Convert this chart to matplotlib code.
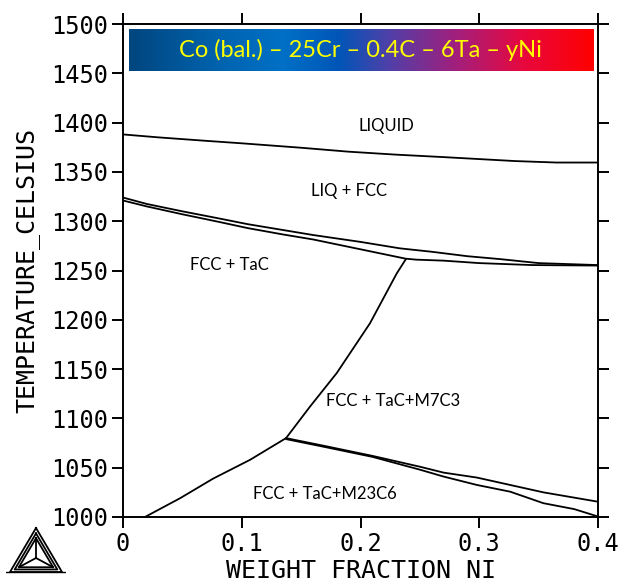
import numpy as np
import matplotlib
matplotlib.use("Agg")
import matplotlib.pyplot as plt
from matplotlib.colors import LinearSegmentedColormap

# phase boundaries (weight fraction Ni, temperature C)
liq_w = [0, 0.03, 0.07, 0.1, 0.15, 0.19, 0.23, 0.27, 0.3, 0.33, 0.365, 0.4]
liq_t = [1388, 1385, 1381.5, 1379, 1374.5, 1370.5, 1367.5, 1365, 1363, 1361, 1359.5, 1359.5]

sol1_w = [0, 0.02, 0.05, 0.08, 0.105, 0.135, 0.16, 0.2, 0.233, 0.26, 0.29, 0.318, 0.35, 0.4]
sol1_t = [1324, 1317.5, 1310, 1303, 1297, 1291, 1286, 1279, 1272.5, 1269, 1264.5, 1261.5, 1257.5, 1255.5]

sol2_w = [0, 0.02, 0.05, 0.08, 0.105, 0.135, 0.16, 0.2, 0.238, 0.247, 0.27, 0.30, 0.345, 0.4]
sol2_t = [1321, 1315, 1307, 1299.5, 1293, 1286.5, 1281.5, 1271.5, 1262, 1261, 1260, 1257.5, 1255.5, 1255]

m7_w = [0.1373, 0.1575, 0.18, 0.208, 0.2305, 0.2383]
m7_t = [1080, 1112, 1146, 1196.5, 1247, 1261.7]

m23l_w = [0.0185, 0.048, 0.076, 0.107, 0.1373]
m23l_t = [1000, 1019, 1039, 1058, 1080]

m23a_w = [0.1373, 0.17, 0.21, 0.25, 0.27, 0.298, 0.326, 0.354, 0.4]
m23a_t = [1080, 1072, 1062, 1051, 1045, 1040, 1032.5, 1025, 1015.5]

m23b_w = [0.1373, 0.17, 0.21, 0.25, 0.27, 0.298, 0.326, 0.354, 0.38, 0.396, 0.4]
m23b_t = [1079, 1071, 1061, 1048, 1041, 1032.5, 1025.7, 1014, 1008, 1002, 1000.5]

region_names = ["LIQUID", "LIQ + FCC", "FCC + TaC", "FCC + TaC+M7C3", "FCC + TaC+M23C6"]
region_w = [0.222, 0.19, 0.09, 0.227, 0.17]
region_t = [1397, 1331, 1256, 1118, 1023]

x_ticks = [0, 0.1, 0.2, 0.3, 0.4]
x_labels = ["0", "0.1", "0.2", "0.3", "0.4"]
y_ticks = list(range(1000, 1501, 50))

title = "Co (bal.) \u2013 25Cr \u2013 0.4C \u2013 6Ta \u2013 yNi"

mono = "DejaVu Sans Mono"
sans = "Lato"

fig = plt.figure(figsize=(6.19, 5.88), dpi=100)
ax = fig.add_axes([123 / 619, 1 - 517 / 588, 475 / 619, 493 / 588])

lw = 1.3
for w, t in [(liq_w, liq_t), (sol1_w, sol1_t), (sol2_w, sol2_t), (m7_w, m7_t),
             (m23l_w, m23l_t), (m23a_w, m23a_t), (m23b_w, m23b_t)]:
    ax.plot(w, t, color="black", lw=lw, solid_capstyle="round")

for name, w, t in zip(region_names, region_w, region_t):
    ax.text(w, t, name, ha="center", va="center", fontsize=12, family=sans)

# gradient banner
cmap = LinearSegmentedColormap.from_list("banner", [
    (0.0, "#00467f"), (0.2, "#0064b0"), (0.33, "#0070c6"), (0.45, "#0056b8"),
    (0.56, "#5040a8"), (0.7, "#a0207e"), (0.85, "#e8083e"), (1.0, "#ff0000")])
grad = np.linspace(0, 1, 256).reshape(1, -1)
ax.imshow(grad, cmap=cmap, aspect="auto", extent=[0.005, 0.396, 1452.5, 1494.5], zorder=3)
ax.text(0.2, 1473.5, title, ha="center", va="center", color="#ffff00",
        fontsize=17, family=sans, zorder=4)

ax.set_xlim(0, 0.4)
ax.set_ylim(1000, 1500)
ax.set_xticks(x_ticks)
ax.set_xticklabels(x_labels)
ax.set_yticks(y_ticks)
ax.tick_params(direction="out", length=8, width=1.4, labelsize=17,
               top=True, right=True, pad=3)
for lab in ax.get_xticklabels() + ax.get_yticklabels():
    lab.set_family(mono)
for s in ax.spines.values():
    s.set_linewidth(1.4)

ax.set_xlabel("WEIGHT FRACTION NI", family=mono, fontsize=18, labelpad=2)
ax.set_ylabel("TEMPERATURE_CELSIUS", family=mono, fontsize=18, labelpad=8)

# logo
lax = fig.add_axes([6 / 619, 1 - 576 / 588, 60 / 619, 52 / 588])
lax.set_xlim(0, 60)
lax.set_ylim(0, 52)
lax.axis("off")
apex = np.array([30, 48])
bl = np.array([4, 4])
br = np.array([56, 4])
cen = np.array([30, 18])
for f in [0, 0.18, 0.34]:
    pts = [p + (cen - p) * f for p in (apex, bl, br, apex)]
    pts = np.array(pts)
    lax.plot(pts[:, 0], pts[:, 1], color="black", lw=1.3)
inner = [p + (cen - p) * 0.34 for p in (apex, bl, br)]
for p in inner:
    lax.plot([p[0], cen[0]], [p[1], cen[1]], color="black", lw=1.3)
lax.plot([0, 60], [4, 4], color="black", lw=1.0)

fig.savefig("out.png", dpi=100)
